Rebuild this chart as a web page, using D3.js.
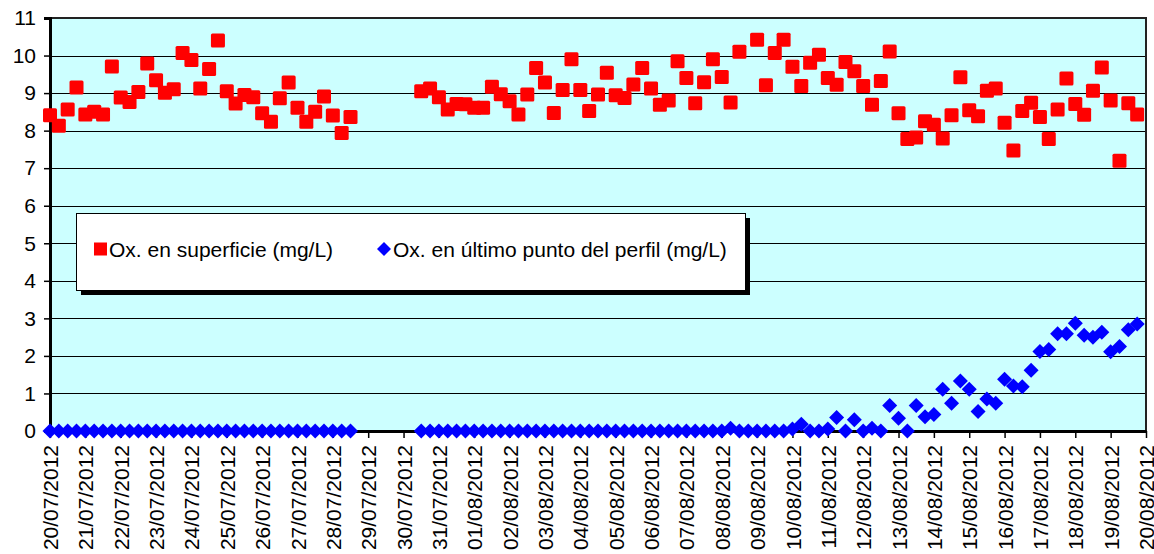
<!DOCTYPE html>
<html>
<head>
<meta charset="utf-8">
<script src="https://cdn.jsdelivr.net/npm/d3@7"></script>
<style>
  html, body { margin: 0; padding: 0; background: #fff; }
  svg { display: block; font-family: "Liberation Sans", Arial, sans-serif; }
</style>
</head>
<body>
<svg id="chart" width="1154" height="554"></svg>
<script>
// ---- data (every 6 hours from 20/07/2012 00:00) ----
const startDate = Date.UTC(2012, 6, 20);
const endDate = Date.UTC(2012, 7, 20);
const stepHours = 6;

const surfaceLabel = "Ox. en superficie (mg/L)";
const bottomLabel = "Ox. en último punto del perfil (mg/L)";

const surfaceValues = [
  8.41, 8.13, 8.56, 9.15, 8.43, 8.50, 8.43, 9.71, 8.88, 8.76,
  9.03, 9.79, 9.34, 9.01, 9.10, 10.07, 9.88, 9.12, 9.64, 10.40,
  9.05, 8.72, 8.95, 8.89, 8.46, 8.24, 8.86, 9.28, 8.61, 8.24,
  8.50, 8.91, 8.40, 7.94, 8.36, null, null, null, null, null,
  null, null, 9.05, 9.12, 8.89, 8.56, 8.71, 8.70, 8.61, 8.61,
  9.17, 8.97, 8.78, 8.43, 8.96, 9.67, 9.28, 8.47, 9.08, 9.90,
  9.08, 8.52, 8.96, 9.54, 8.94, 8.87, 9.23, 9.67, 9.12, 8.69,
  8.80, 9.85, 9.40, 8.73, 9.29, 9.90, 9.43, 8.75, 10.10, null,
  10.42, 9.21, 10.07, 10.42, 9.70, 9.19, 9.81, 10.02, 9.40, 9.22,
  9.83, 9.58, 9.19, 8.69, 9.32, 10.11, 8.46, 7.78, 7.82, 8.25,
  8.16, 7.79, 8.41, 9.42, 8.54, 8.38, 9.06, 9.12, 8.21, 7.47,
  8.52, 8.74, 8.36, 7.78, 8.56, 9.39, 8.71, 8.42, 9.06, 9.68,
  8.80, 7.20, 8.73, 8.43
];

const bottomValues = [
  0, 0, 0, 0, 0, 0, 0, 0, 0, 0,
  0, 0, 0, 0, 0, 0, 0, 0, 0, 0,
  0, 0, 0, 0, 0, 0, 0, 0, 0, 0,
  0, 0, 0, 0, 0, null, null, null, null, null,
  null, null, 0, 0, 0, 0, 0, 0, 0, 0,
  0, 0, 0, 0, 0, 0, 0, 0, 0, 0,
  0, 0, 0, 0, 0, 0, 0, 0, 0, 0,
  0, 0, 0, 0, 0, 0, 0, 0.07, 0, 0,
  0, 0, 0, 0, 0.05, 0.18, 0, 0, 0.05, 0.36,
  0, 0.30, 0, 0.07, 0, 0.68, 0.34, 0, 0.68, 0.38,
  0.44, 1.11, 0.74, 1.33, 1.11, 0.52, 0.85, 0.74, 1.38, 1.20,
  1.18, 1.62, 2.12, 2.17, 2.59, 2.59, 2.87, 2.55, 2.50, 2.63,
  2.11, 2.25, 2.70, 2.85
];

const yTicks = [0, 1, 2, 3, 4, 5, 6, 7, 8, 9, 10, 11];
const xTickLabels = [
  "20/07/2012", "21/07/2012", "22/07/2012", "23/07/2012", "24/07/2012", "25/07/2012",
  "26/07/2012", "27/07/2012", "28/07/2012", "29/07/2012", "30/07/2012", "31/07/2012",
  "01/08/2012", "02/08/2012", "03/08/2012", "04/08/2012", "05/08/2012", "06/08/2012",
  "07/08/2012", "08/08/2012", "09/08/2012", "10/08/2012", "11/08/2012", "12/08/2012",
  "13/08/2012", "14/08/2012", "15/08/2012", "16/08/2012", "17/08/2012", "18/08/2012",
  "19/08/2012", "20/08/2012"
];

// ---- layout ----
const svg = d3.select("#chart");
const L = 50, R = 1146, T = 18, B = 431;

const x = d3.scaleUtc().domain([startDate, endDate]).range([L, R]);
const y = d3.scaleLinear().domain([0, 11]).range([B, T]);

const timeOf = i => new Date(startDate + i * stepHours * 3600 * 1000);
const parseLabel = s => { const p = s.split("/"); return new Date(Date.UTC(+p[2], +p[1] - 1, +p[0])); };

// plot background
svg.append("rect").attr("x", L).attr("y", T).attr("width", R - L).attr("height", B - T)
  .attr("fill", "#CCFFFF");

// gridlines
svg.append("g").selectAll("line").data(yTicks.filter(d => d > 0 && d < 11)).join("line")
  .attr("x1", L).attr("x2", R)
  .attr("y1", d => Math.round(y(d)) + 0.5).attr("y2", d => Math.round(y(d)) + 0.5)
  .attr("stroke", "#000").attr("stroke-width", 1);

// plot border top/right
svg.append("path")
  .attr("d", `M${L},${T} H${R} V${B}`)
  .attr("fill", "none").attr("stroke", "#222").attr("stroke-width", 2);

// y axis
const yAxis = d3.axisLeft(y).tickValues(yTicks).tickSize(6).tickPadding(8).tickFormat(d3.format("d"));
const gy = svg.append("g").attr("transform", `translate(${L},0)`).call(yAxis);
gy.select(".domain").attr("stroke", "#000").attr("stroke-width", 3);
gy.selectAll(".tick line").attr("stroke", "#000").attr("stroke-width", 1.5);
gy.selectAll(".tick text").attr("font-size", 21).attr("font-family", "Liberation Sans, Arial, sans-serif")
  .attr("fill", "#000");

// x axis
const xAxis = d3.axisBottom(x).tickValues(xTickLabels.map(parseLabel)).tickSize(7).tickSizeOuter(0)
  .tickFormat((d, i) => xTickLabels[i]);
const gx = svg.append("g").attr("transform", `translate(0,${B})`).call(xAxis);
gx.select(".domain").attr("stroke", "#000").attr("stroke-width", 3);
gx.selectAll(".tick line").attr("stroke", "#000").attr("stroke-width", 1.5);
gx.selectAll(".tick text")
  .attr("font-size", 21).attr("font-family", "Liberation Sans, Arial, sans-serif").attr("fill", "#000")
  .attr("text-anchor", "end")
  .attr("transform", "rotate(-90)")
  .attr("x", -14).attr("y", 0).attr("dy", "0.36em");

// series
const surfacePts = surfaceValues.map((v, i) => ({ t: timeOf(i), v })).filter(d => d.v !== null);
const bottomPts = bottomValues.map((v, i) => ({ t: timeOf(i), v })).filter(d => d.v !== null);

const sq = 14;
svg.append("g").selectAll("rect").data(surfacePts).join("rect")
  .attr("x", d => x(d.t) - sq / 2).attr("y", d => y(d.v) - sq / 2)
  .attr("width", sq).attr("height", sq).attr("rx", 1.5)
  .attr("fill", "#FF0000");

const dh = 7.5;
const diamond = `M0,${-dh} L${dh},0 L0,${dh} L${-dh},0 Z`;
svg.append("g").selectAll("path").data(bottomPts).join("path")
  .attr("transform", d => `translate(${x(d.t)},${y(d.v)})`)
  .attr("d", diamond)
  .attr("fill", "#0000FF");

// legend
const lg = svg.append("g");
const lx = 76, ly = 213, lw = 669, lh = 77;
lg.append("rect").attr("x", lx + 5).attr("y", ly + 5).attr("width", lw).attr("height", lh).attr("fill", "#000");
lg.append("rect").attr("x", lx + 0.5).attr("y", ly + 0.5).attr("width", lw).attr("height", lh)
  .attr("fill", "#fff").attr("stroke", "#000").attr("stroke-width", 1);
const lcy = ly + 36;
lg.append("rect").attr("x", 94).attr("y", lcy - 6.5).attr("width", 13).attr("height", 13).attr("fill", "#FF0000");
lg.append("text").attr("x", 109).attr("y", lcy).attr("dy", "0.36em")
  .attr("font-size", 21).attr("fill", "#000").text(surfaceLabel);
lg.append("path").attr("transform", `translate(${384},${lcy})`)
  .attr("d", `M0,-7 L7,0 L0,7 L-7,0 Z`).attr("fill", "#0000FF");
lg.append("text").attr("x", 393).attr("y", lcy).attr("dy", "0.36em")
  .attr("font-size", 21).attr("fill", "#000").text(bottomLabel);
</script>
</body>
</html>
